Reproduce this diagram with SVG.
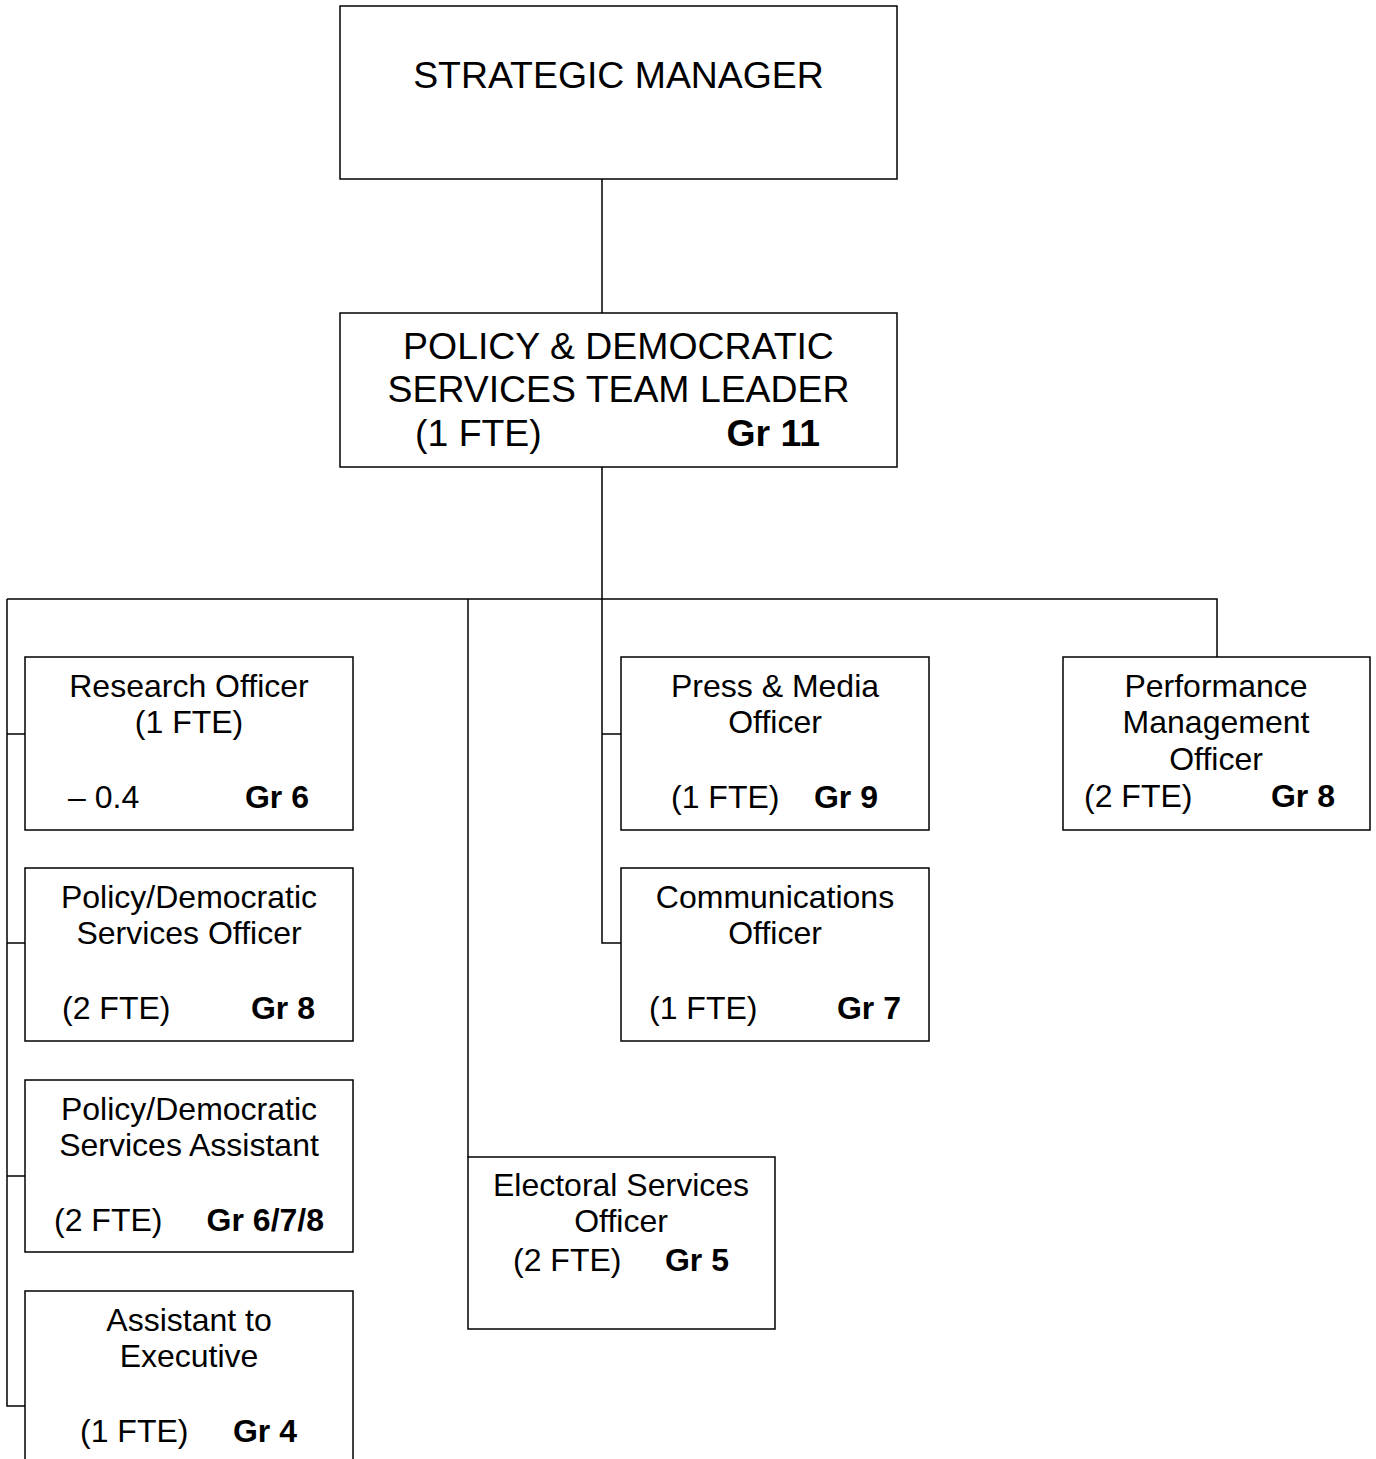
<svg xmlns="http://www.w3.org/2000/svg" width="1376" height="1459" viewBox="0 0 1376 1459">
<style>
.box{fill:#fff;stroke:#000;stroke-width:1.5}
.ln{fill:none;stroke:#000;stroke-width:1.5}
text{font-family:"Liberation Sans",Arial,sans-serif;fill:#000}
.big{font-size:37.4px}
.sm{font-size:32px}
.c{text-anchor:middle}
.e{text-anchor:end}
.b{font-weight:bold}
</style>
<rect width="1376" height="1459" fill="#fff"/>
<g id="connectors">
<path class="ln" d="M602,179V313"/>
<path class="ln" d="M602,467V943H621M602,734H621"/>
<path class="ln" d="M7,599H1217V657"/>
<path class="ln" d="M7,599V1406H25M7,734H25M7,943H25M7,1176H25"/>
<path class="ln" d="M468,599V1157"/>
</g>
<g id="strategic-manager">
<rect class="box" x="340" y="6" width="557" height="173"/>
<text class="big c" x="618.5" y="88">STRATEGIC MANAGER</text>
</g>
<g id="team-leader">
<rect class="box" x="340" y="313" width="557" height="154"/>
<text class="big c" x="618.5" y="359">POLICY &amp; DEMOCRATIC</text>
<text class="big c" x="618.5" y="402">SERVICES TEAM LEADER</text>
<text class="big" x="415" y="446">(1 FTE)</text>
<text class="big e b" x="820" y="446">Gr 11</text>
</g>
<g id="research-officer">
<rect class="box" x="25" y="657" width="328" height="173"/>
<text class="sm c" x="189" y="697">Research Officer</text>
<text class="sm c" x="189" y="733">(1 FTE)</text>
<text class="sm" x="68" y="808">– 0.4</text>
<text class="sm e b" x="309" y="808">Gr 6</text>
</g>
<g id="policy-officer">
<rect class="box" x="25" y="868" width="328" height="173"/>
<text class="sm c" x="189" y="908">Policy/Democratic</text>
<text class="sm c" x="189" y="944">Services Officer</text>
<text class="sm" x="62" y="1019">(2 FTE)</text>
<text class="sm e b" x="315" y="1019">Gr 8</text>
</g>
<g id="policy-assistant">
<rect class="box" x="25" y="1080" width="328" height="172"/>
<text class="sm c" x="189" y="1120">Policy/Democratic</text>
<text class="sm c" x="189" y="1156">Services Assistant</text>
<text class="sm" x="54" y="1231">(2 FTE)</text>
<text class="sm e b" x="324" y="1231">Gr 6/7/8</text>
</g>
<g id="assistant-executive">
<path class="box" d="M25,1470V1291H353V1470"/>
<text class="sm c" x="189" y="1331">Assistant to</text>
<text class="sm c" x="189" y="1367">Executive</text>
<text class="sm" x="80" y="1442">(1 FTE)</text>
<text class="sm e b" x="297" y="1442">Gr 4</text>
</g>
<g id="press-media">
<rect class="box" x="621" y="657" width="308" height="173"/>
<text class="sm c" x="775" y="697">Press &amp; Media</text>
<text class="sm c" x="775" y="733">Officer</text>
<text class="sm" x="671" y="808">(1 FTE)</text>
<text class="sm e b" x="878" y="808">Gr 9</text>
</g>
<g id="communications">
<rect class="box" x="621" y="868" width="308" height="173"/>
<text class="sm c" x="775" y="908">Communications</text>
<text class="sm c" x="775" y="944">Officer</text>
<text class="sm" x="649" y="1019">(1 FTE)</text>
<text class="sm e b" x="901" y="1019">Gr 7</text>
</g>
<g id="electoral">
<rect class="box" x="468" y="1157" width="307" height="172"/>
<text class="sm c" x="621" y="1196">Electoral Services</text>
<text class="sm c" x="621" y="1232">Officer</text>
<text class="sm" x="513" y="1271">(2 FTE)</text>
<text class="sm e b" x="729" y="1271">Gr 5</text>
</g>
<g id="performance">
<rect class="box" x="1063" y="657" width="307" height="173"/>
<text class="sm c" x="1216" y="697">Performance</text>
<text class="sm c" x="1216" y="733">Management</text>
<text class="sm c" x="1216" y="770">Officer</text>
<text class="sm" x="1084" y="807">(2 FTE)</text>
<text class="sm e b" x="1335" y="807">Gr 8</text>
</g>
</svg>
